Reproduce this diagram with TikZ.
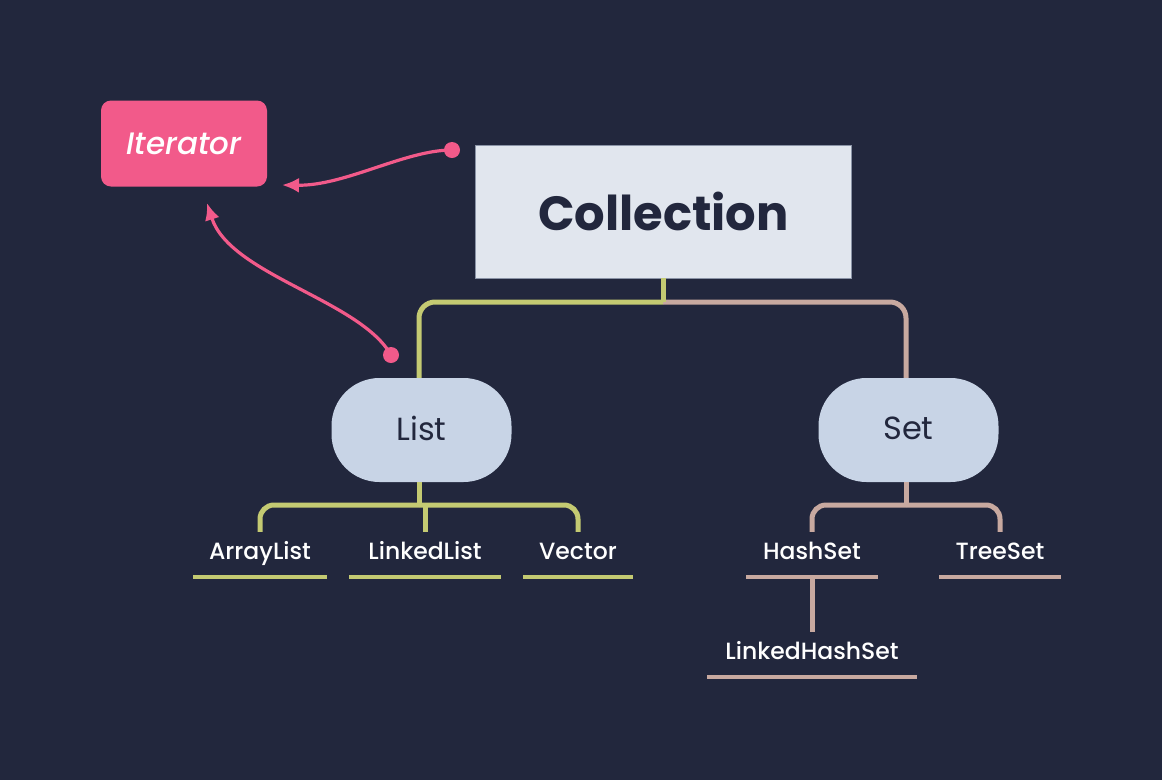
\documentclass[tikz,border=0pt]{standalone}
\usepackage{fontspec}
\setmainfont{Poppins}
\newfontfamily\medfont{Poppins Medium}
\usetikzlibrary{arrows.meta}
\definecolor{bg}{HTML}{22273D}
\definecolor{pinkc}{HTML}{F25A8A}
\definecolor{colfill}{HTML}{E1E6EE}
\definecolor{colborder}{HTML}{8A93A6}
\definecolor{pill}{HTML}{C8D4E6}
\definecolor{gl}{HTML}{C4CA72}
\definecolor{bl}{HTML}{C8A9A0}
\definecolor{ink}{HTML}{22273D}
\begin{document}
\begin{tikzpicture}[x=1pt,y=-1pt,
  itbox/.style={fill=pinkc, rounded corners=10pt, minimum width=166pt, minimum height=86pt, inner sep=0pt, text=white, font=\fontsize{31}{36}\selectfont\medfont\itshape},
  colbox/.style={fill=colfill, draw=colborder, line width=0.8pt, minimum width=376pt, minimum height=133pt, inner sep=0pt, text=ink, font=\fontsize{48}{56}\selectfont\bfseries},
  pillbox/.style={fill=pill, rounded corners=48pt, minimum width=180pt, minimum height=104pt, inner sep=0pt, text=ink, font=\fontsize{32}{36}\selectfont},
  leaf/.style={anchor=base, text=white, font=\fontsize{23.5}{28}\selectfont\medfont, text height=18pt, text depth=0pt, inner xsep=0pt, inner ysep=9pt},
  gline/.style={draw=gl, line width=5pt},
  bline/.style={draw=bl, line width=5pt},
  gul/.style={fill=gl, minimum height=4.5pt, inner sep=0pt},
  bul/.style={fill=bl, minimum height=4.5pt, inner sep=0pt},
  parr/.style={draw=pinkc, line width=3.2pt, -{Latex[length=17pt,width=15pt]}},
  pdot/.style={fill=pinkc}
]
\fill[bg] (0,0) rectangle (1162,780);
\useasboundingbox (0,0) rectangle (1162,780);

% main nodes
\node[itbox] (it) at (184,143.5) {Iterator};
\node[colbox] (col) at (663.5,211.5) {Collection};
\node[pillbox] (list) at (421.5,430) {\raisebox{3pt}{List}};
\node[pillbox] (set) at (908.5,430) {\raisebox{3pt}{Set}};

% leaves
\node[leaf] (al) at (260,559) {ArrayList};
\node[leaf] (ll) at (425,559) {LinkedList};
\node[leaf] (vec) at (578,559) {Vector};
\node[leaf] (hs) at (812,559) {HashSet};
\node[leaf] (ts) at (1000,559) {TreeSet};
\node[leaf] (lhs) at (812,659) {LinkedHashSet};

% underlines
\node[gul, minimum width=134pt] (alu) at (260,577) {};
\node[gul, minimum width=152pt] (llu) at (425,577) {};
\node[gul, minimum width=110pt] (vecu) at (578,577) {};
\node[bul, minimum width=132pt] (hsu) at (812,577) {};
\node[bul, minimum width=122pt] (tsu) at (1000,577) {};
\node[bul, minimum width=210pt] (lhsu) at (812,677) {};

% junctions
\coordinate (j) at (663,302);
\coordinate (lj) at (419,505);
\coordinate (sj) at (906,505);

% Collection -> List / Set
\draw[bline, rounded corners=16pt] (j) -| (set.north -| 906,0);
\draw[gline, rounded corners=16pt] (j) -| (list.north -| 419,0);
\draw[gline] (col.south -| j) -- (j);

% List children
\draw[gline] (list.south -| lj) -- (lj);
\draw[gline, rounded corners=14pt] (lj) -| (al.north);
\draw[gline, rounded corners=14pt] (lj) -| (vec.north);
\draw[gline] (ll.north |- lj) -- (ll.north);

% Set children
\draw[bline] (set.south -| sj) -- (sj);
\draw[bline, rounded corners=14pt] (sj) -| (hs.north);
\draw[bline, rounded corners=14pt] (sj) -| (ts.north);
\draw[bline] (hsu.center) -- (lhs.north);

% Iterator arrows
\coordinate (d1) at (452,150);
\coordinate (a1) at (282,185);
\coordinate (d2) at (391,355);
\coordinate (a2) at (207,203);
\draw[parr] (d1) .. controls (405,150) and (345,186) .. (a1);
\draw[parr] (d2) .. controls (360,300) and (230,275) .. (a2);
\fill[pdot] (d1) circle (8pt);
\fill[pdot] (d2) circle (8pt);
\end{tikzpicture}
\end{document}
